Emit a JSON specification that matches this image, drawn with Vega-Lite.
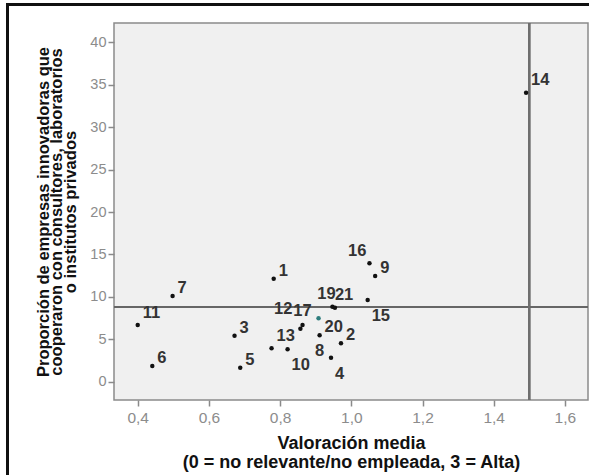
{
  "$schema": "https://vega.github.io/schema/vega-lite/v6.json",
  "width": 474,
  "height": 377,
  "autosize": {"type": "none"},
  "padding": {"left": 114, "top": 23, "right": 1, "bottom": 75},
  "background": "white",
  "config": {
    "font": "Liberation Sans",
    "view": {"fill": "#f0f0f0", "stroke": "#8a8a8a", "strokeWidth": 1.5},
    "axis": {
      "domain": false,
      "grid": false,
      "ticks": true,
      "tickColor": "#8a8a8a",
      "tickWidth": 1.5,
      "tickSize": 6,
      "labelColor": "#8c8c8c",
      "labelFont": "Liberation Sans",
      "titleFont": "Liberation Sans",
      "titleFontWeight": "bold",
      "titleColor": "#111111"
    },
    "text": {"font": "Liberation Sans", "fontSize": 16.5, "fontWeight": "bold", "color": "#333333", "baseline": "alphabetic"}
  },
  "data": {
    "values": [
      {"caso": 1, "valoracion": 0.782, "proporcion": 12.13},
      {"caso": 2, "valoracion": 0.971, "proporcion": 4.52},
      {"caso": 3, "valoracion": 0.672, "proporcion": 5.41},
      {"caso": 4, "valoracion": 0.943, "proporcion": 2.82},
      {"caso": 5, "valoracion": 0.688, "proporcion": 1.64},
      {"caso": 6, "valoracion": 0.441, "proporcion": 1.84},
      {"caso": 7, "valoracion": 0.498, "proporcion": 10.09},
      {"caso": 8, "valoracion": 0.911, "proporcion": 5.46},
      {"caso": 9, "valoracion": 1.067, "proporcion": 12.45},
      {"caso": 10, "valoracion": 0.821, "proporcion": 3.81},
      {"caso": 11, "valoracion": 0.400, "proporcion": 6.67},
      {"caso": 12, "valoracion": 0.857, "proporcion": 6.24},
      {"caso": 13, "valoracion": 0.776, "proporcion": 3.93},
      {"caso": 14, "valoracion": 1.491, "proporcion": 34.07},
      {"caso": 15, "valoracion": 1.046, "proporcion": 9.62},
      {"caso": 16, "valoracion": 1.051, "proporcion": 13.95},
      {"caso": 17, "valoracion": 0.863, "proporcion": 6.67},
      {"caso": 19, "valoracion": 0.947, "proporcion": 8.83},
      {"caso": 20, "valoracion": 0.908, "proporcion": 7.46},
      {"caso": 21, "valoracion": 0.954, "proporcion": 8.72}
    ]
  },
  "encoding": {
    "x": {
      "field": "valoracion",
      "type": "quantitative",
      "scale": {"domain": [0.3334, 1.6649], "nice": false, "zero": false},
      "axis": {
        "values": [0.4, 0.6, 0.8, 1.0, 1.2, 1.4, 1.6],
        "labelExpr": "replace(format(datum.value, '.1f'), '.', ',')",
        "labelFontSize": 15.5,
        "labelPadding": 4,
        "title": ["Valoración media", "(0 = no relevante/no empleada, 3 = Alta)"],
        "titleFontSize": 18,
        "titleLineHeight": 19.5,
        "titleX": 237,
        "titleY": 48,
        "titleAlign": "center",
        "titleBaseline": "alphabetic"
      }
    },
    "y": {
      "field": "proporcion",
      "type": "quantitative",
      "scale": {"domain": [-2.17, 42.29], "nice": false, "zero": false},
      "axis": {
        "values": [0, 5, 10, 15, 20, 25, 30, 35, 40],
        "format": "d",
        "labelFontSize": 14.5,
        "labelPadding": 2,
        "title": ["Proporción de empresas innovadoras que", "cooperaron con consultores, laboratorios", "o institutos privados"],
        "titleFontSize": 16.5,
        "titleLineHeight": 13.5,
        "titleAngle": -90,
        "titleX": -71,
        "titleY": 188.5,
        "titleAlign": "center",
        "titleBaseline": "middle"
      }
    }
  },
  "layer": [
    {
      "mark": {"type": "rect", "fill": null, "stroke": "#111111", "strokeWidth": 2.5, "clip": false},
      "encoding": {
        "x": {"datum": 0.0343},
        "x2": {"datum": 2.2},
        "y": {"datum": 44.47},
        "y2": {"datum": -25}
      }
    },
    {
      "mark": {"type": "rule", "color": "#666666", "strokeWidth": 1.5},
      "encoding": {"y": {"datum": 8.83}, "x": null}
    },
    {
      "mark": {"type": "rule", "color": "#6e6e6e", "strokeWidth": 1.5},
      "encoding": {"x": {"datum": 1.5}, "y": null}
    },
    {
      "mark": {"type": "circle", "size": 20, "opacity": 1},
      "encoding": {
        "color": {
          "condition": {"test": "datum.caso === 20", "value": "#2e7d7d"},
          "value": "#111111"
        }
      }
    },
    {
      "transform": [{"filter": {"field": "caso", "oneOf": [6, 7, 1, 3, 5, 2, 9]}}],
      "mark": {"type": "text", "align": "left", "dx": 5, "dy": -3},
      "encoding": {"text": {"field": "caso", "type": "nominal"}}
    },
    {
      "transform": [{"filter": {"field": "caso", "oneOf": [11, 14, 13]}}],
      "mark": {"type": "text", "align": "left", "dx": 5, "dy": -7.5},
      "encoding": {"text": {"field": "caso", "type": "nominal"}}
    },
    {
      "transform": [{"filter": {"field": "caso", "oneOf": [21]}}],
      "mark": {"type": "text", "align": "left", "dx": 0, "dy": -8},
      "encoding": {"text": {"field": "caso", "type": "nominal"}}
    },
    {
      "transform": [{"filter": {"field": "caso", "oneOf": [19]}}],
      "mark": {"type": "text", "align": "center", "dx": -6, "dy": -8},
      "encoding": {"text": {"field": "caso", "type": "nominal"}}
    },
    {
      "transform": [{"filter": {"field": "caso", "oneOf": [17]}}],
      "mark": {"type": "text", "align": "center", "dx": 0, "dy": -9},
      "encoding": {"text": {"field": "caso", "type": "nominal"}}
    },
    {
      "transform": [{"filter": {"field": "caso", "oneOf": [12]}}],
      "mark": {"type": "text", "align": "right", "dx": -8, "dy": -15},
      "encoding": {"text": {"field": "caso", "type": "nominal"}}
    },
    {
      "transform": [{"filter": {"field": "caso", "oneOf": [16]}}],
      "mark": {"type": "text", "align": "right", "dx": -3, "dy": -7},
      "encoding": {"text": {"field": "caso", "type": "nominal"}}
    },
    {
      "transform": [{"filter": {"field": "caso", "oneOf": [8]}}],
      "mark": {"type": "text", "align": "center", "dx": 0, "dy": 21},
      "encoding": {"text": {"field": "caso", "type": "nominal"}}
    },
    {
      "transform": [{"filter": {"field": "caso", "oneOf": [10, 15, 4]}}],
      "mark": {"type": "text", "align": "left", "dx": 4, "dy": 21},
      "encoding": {"text": {"field": "caso", "type": "nominal"}}
    },
    {
      "transform": [{"filter": {"field": "caso", "oneOf": [20]}}],
      "mark": {"type": "text", "align": "left", "dx": 6, "dy": 13.5},
      "encoding": {"text": {"field": "caso", "type": "nominal"}}
    }
  ]
}
